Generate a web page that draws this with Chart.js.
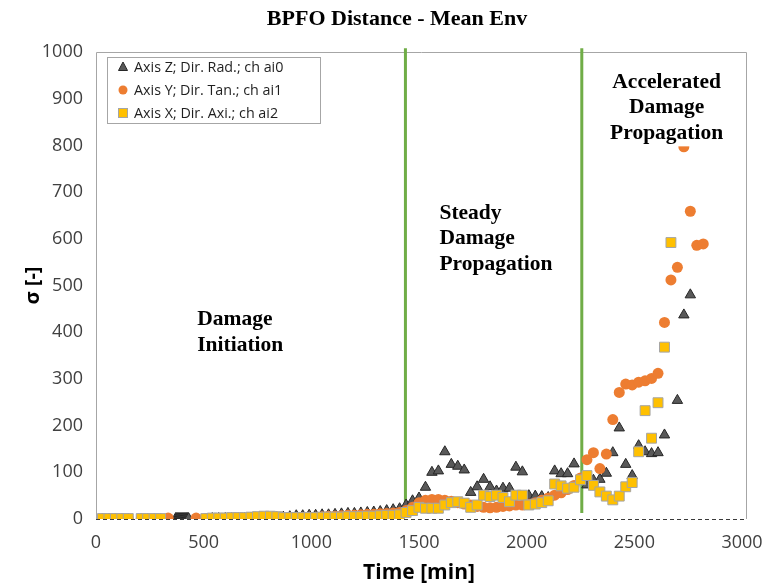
<!DOCTYPE html>
<html>
<head>
<meta charset="utf-8">
<script src="https://cdn.jsdelivr.net/npm/chart.js@4/dist/chart.umd.min.js"></script>
<style>
  html, body { margin: 0; padding: 0; background: #ffffff; }
  #wrap { width: 768px; height: 584px; }
</style>
</head>
<body>
<div id="wrap"><canvas id="c" width="768" height="584"></canvas></div>
<script>
// ---------- DATA ----------
const chartTitle = 'BPFO Distance - Mean Env';
const xTitle = 'Time [min]';
const yTitle = 'σ [-]';
const seriesLabels = ['Axis Z; Dir. Rad.; ch ai0', 'Axis Y; Dir. Tan.; ch ai1', 'Axis X; Dir. Axi.; ch ai2'];
const phaseDividers = [1437, 2256];           // vertical green lines, time [min]
const phaseLabels = [
  { lines: ['Damage', 'Initiation'], t: 470, s: 427, align: 'left' },
  { lines: ['Steady', 'Damage', 'Propagation'], t: 1595, s: 655, align: 'left' },
  { lines: ['Accelerated', 'Damage', 'Propagation'], t: 2650, s: 935, align: 'center' }
];

// Axis Z (triangles)
const timeZ = [30,60,90,120,150,210,240,270,300,
  370,375,380,385,390,395,400,405,410,415,420,425,430,
  510,540,570,600,630,660,690,720,750,780,810,840,870,900,930,960,990,1020,1050,1080,1110,1140,1170,1200,1230,1260,1290,1320,1350,1380,
  1410,1440,1470,1500,1530,1560,1590,1620,1650,1680,1710,1740,1770,1800,1830,1860,1890,1920,1950,1980,2010,2040,2070,2100,2130,2160,2190,2220,2250,2280,2310,2340,2370,2400,2430,2460,2490,2520,2550,2580,2610,2640,
  2700,2730,2760];
const sigmaZ = [0,0,0,0,0,0,0,0,0,
  1,1,1,1,1,1,1,1,1,1,1,1,1,
  0,1,1,1,1,1,1,2,2,2,2,3,4,5,7,7,8,8,9,9,10,11,12,12,13,14,15,16,18,20,
  22,30,39,45,68,100,103,144,117,113,105,57,69,85,69,60,66,66,111,101,50,49,48,46,103,97,97,118,85,73,83,85,98,142,195,117,93,157,144,140,142,180,
  254,437,480];

// Axis Y (circles)
const timeY = [30,60,90,120,150,210,240,270,300,335,465,
  510,540,570,600,630,660,690,720,750,780,810,840,870,900,930,960,990,1020,1050,1080,1110,1140,1170,1200,1230,1260,1290,1320,1350,1380,
  1410,1440,1470,1500,1530,1560,1590,1620,1650,1680,1710,1740,1770,1800,1830,1860,1890,1920,1950,1980,2010,2040,2070,2100,2130,2160,2190,2220,2250,2280,2310,2340,2370,2400,2430,2460,2490,2520,2550,2580,2610,2640,2670,
  2700,2730,2760,2790,2820];
const sigmaY = [0,0,0,0,0,0,0,0,0,2,2,
  1,1,1,1,1,1,1,1,2,2,2,2,2,2,3,3,4,4,5,6,6,7,8,8,9,10,10,11,12,13,
  14,18,25,35,40,42,42,40,38,35,32,30,27,25,24,25,27,28,30,30,32,35,40,45,51,56,63,72,88,127,142,108,139,213,271,289,287,293,296,301,312,421,512,
  539,797,659,586,589];

// Axis X (squares)
const timeX = [30,60,90,120,150,210,240,270,300,
  510,540,570,600,630,660,690,720,750,780,810,840,870,900,930,960,990,1020,1050,1080,1110,1140,1170,1200,1230,1260,1290,1320,1350,1380,
  1410,1440,1470,1500,1530,1560,1590,1620,1650,1680,1710,1740,1770,1800,1830,1860,1890,1920,1950,1980,2010,2040,2070,2100,2130,2160,2190,2220,2250,2280,2310,2340,2370,2400,2430,2460,2490,2520,2550,2580,2610,2640,2670];
const sigmaX = [1,1,1,1,1,1,1,1,1,
  1,2,2,2,3,3,3,4,5,6,6,5,3,3,3,3,3,3,4,4,4,4,5,5,5,6,6,7,8,8,
  9,14,18,25,23,23,23,30,35,37,34,25,30,51,48,51,46,37,51,51,30,32,35,39,75,71,66,68,84,93,72,58,49,41,49,69,78,144,232,173,249,368,592];

// Axis settings
const xMin = 0, xMax = 3000, xStep = 500;
const yMin = 0, yMax = 1000, yStep = 100;

// ---------- helpers ----------
function toPoints(ts, vs) { return ts.map((t, i) => ({ x: t, y: vs[i] })); }

const COLORS = {
  tri: '#595959', triBorder: '#262626',
  circ: '#ED7D31',
  sq: '#FFC000', sqBorder: '#A5A5A5',
  green: '#70AD47', frame: '#A6A6A6', text: '#404040'
};

function drawMarker(ctx, style, x, y) {
  ctx.save();
  if (style === 'triangle') {
    ctx.beginPath();
    ctx.moveTo(x, y - 5);
    ctx.lineTo(x + 4.5, y + 3.5);
    ctx.lineTo(x - 4.5, y + 3.5);
    ctx.closePath();
    ctx.fillStyle = COLORS.tri; ctx.fill();
    ctx.strokeStyle = COLORS.triBorder; ctx.lineWidth = 1; ctx.stroke();
  } else if (style === 'circle') {
    ctx.beginPath(); ctx.arc(x, y, 4.5, 0, Math.PI * 2);
    ctx.fillStyle = COLORS.circ; ctx.fill();
  } else {
    ctx.fillStyle = COLORS.sq; ctx.fillRect(x - 4.5, y - 4.5, 9, 9);
    ctx.strokeStyle = COLORS.sqBorder; ctx.lineWidth = 1; ctx.strokeRect(x - 4.5, y - 4.5, 9, 9);
  }
  ctx.restore();
}

const decor = {
  id: 'decor',
  beforeDatasetsDraw(chart) {
    const { ctx, chartArea: a, scales: { x, y } } = chart;
    ctx.save();
    // plot frame (top, left, right)
    ctx.strokeStyle = COLORS.frame; ctx.lineWidth = 1;
    ctx.beginPath();
    ctx.moveTo(a.left + 0.5, a.bottom); ctx.lineTo(a.left + 0.5, a.top + 0.5);
    ctx.lineTo(a.right + 4.5, a.top + 0.5); ctx.lineTo(a.right + 4.5, a.bottom);
    ctx.stroke();
    // dashed zero line
    ctx.strokeStyle = '#3a3a3a'; ctx.setLineDash([4, 3]);
    ctx.beginPath(); ctx.moveTo(a.left, a.bottom + 0.5); ctx.lineTo(a.right + 5, a.bottom + 0.5); ctx.stroke();
    ctx.setLineDash([]);
    // phase divider lines
    ctx.strokeStyle = COLORS.green; ctx.lineWidth = 3;
    phaseDividers.forEach(t => {
      const px = x.getPixelForValue(t);
      ctx.beginPath();
      ctx.moveTo(px, y.getPixelForValue(1008));
      ctx.lineTo(px, y.getPixelForValue(13));
      ctx.stroke();
    });
    ctx.restore();
  },
  afterDatasetsDraw(chart) {
    const { ctx, scales: { x, y } } = chart;
    ctx.save();
    ctx.font = 'bold 21.5px "Liberation Serif", "Times New Roman", serif';
    ctx.fillStyle = '#000';
    ctx.textBaseline = 'middle';
    phaseLabels.forEach(lbl => {
      const px = x.getPixelForValue(lbl.t);
      const py = y.getPixelForValue(lbl.s);
      if (lbl.align === 'center') {
        ctx.fillStyle = '#ffffff';
        ctx.fillRect(px - 66, py - 20, 132, 84);
        ctx.fillStyle = '#000';
      }
      ctx.textAlign = lbl.align;
      lbl.lines.forEach((ln, i) => ctx.fillText(ln, px, py + i * 25.5));
    });
    ctx.restore();
  },
  afterDraw(chart) {
    const { ctx } = chart;
    ctx.save();
    // legend box
    const bx = 107.5, by = 57.5, bw = 213, bh = 66;
    ctx.fillStyle = '#fff'; ctx.fillRect(bx, by, bw, bh);
    ctx.strokeStyle = '#A6A6A6'; ctx.lineWidth = 1; ctx.strokeRect(bx, by, bw, bh);
    const styles = ['triangle', 'circle', 'rect'];
    const rows = [67, 90, 113];
    ctx.font = '14.3px "Open Sans", sans-serif';
    ctx.textBaseline = 'middle'; ctx.textAlign = 'left';
    chart.data.datasets.forEach((ds, i) => {
      drawMarker(ctx, styles[i], 123, rows[i]);
      ctx.fillStyle = '#1f1f1f';
      ctx.fillText(ds.label, 134, rows[i] + 0.5);
    });
    ctx.restore();
  }
};

const plainTick = v => String(v);

new Chart(document.getElementById('c'), {
  type: 'scatter',
  data: {
    datasets: [
      { label: seriesLabels[0], data: toPoints(timeZ, sigmaZ), pointStyle: 'triangle', pointRadius: 6,
        backgroundColor: COLORS.tri, borderColor: COLORS.triBorder, borderWidth: 1, order: 2 },
      { label: seriesLabels[1], data: toPoints(timeY, sigmaY), pointStyle: 'circle', pointRadius: 5.5,
        backgroundColor: COLORS.circ, borderColor: COLORS.circ, borderWidth: 0, order: 1 },
      { label: seriesLabels[2], data: toPoints(timeX, sigmaX), pointStyle: 'rect', pointRadius: 7,
        backgroundColor: COLORS.sq, borderColor: COLORS.sqBorder, borderWidth: 1, order: 0 }
    ]
  },
  options: {
    responsive: false,
    animation: false,
    devicePixelRatio: 1,
    layout: { padding: { left: 26, right: 0, top: 0, bottom: 0 } },
    plugins: {
      legend: { display: false },
      tooltip: { enabled: false },
      title: {
        display: true, text: chartTitle, color: '#000',
        font: { family: '"Liberation Serif", "Times New Roman", serif', size: 22, weight: 'bold', lineHeight: 1.2 },
        padding: { top: 6, bottom: 19.6 }
      }
    },
    scales: {
      x: {
        type: 'linear', min: xMin, max: xMax,
        ticks: { stepSize: xStep, color: COLORS.text, padding: 13, callback: plainTick,
          font: { family: '"Open Sans", sans-serif', size: 18 } },
        grid: { display: false, drawTicks: false },
        border: { display: false },
        title: { display: true, text: xTitle, color: '#000', padding: { top: 0, bottom: 0 },
          font: { family: '"Open Sans", sans-serif', size: 21, weight: 'bold', lineHeight: 1.05 } },
        afterFit: s => { s.height = 65; s.paddingLeft = 0; s.paddingRight = 0; }
      },
      y: {
        type: 'linear', min: yMin, max: yMax,
        ticks: { stepSize: yStep, color: COLORS.text, padding: 13, callback: plainTick,
          font: { family: '"Open Sans", sans-serif', size: 18 } },
        grid: { display: false, drawTicks: false },
        border: { display: false },
        title: { display: true, text: yTitle, color: '#000', padding: { top: 0, bottom: 0 },
          font: { family: '"Open Sans", sans-serif', size: 20, weight: 'bold', lineHeight: 0.7 } },
        afterFit: s => { s.width = 70; s.paddingTop = 0; s.paddingBottom = 0; }
      },
      yR: {
        type: 'linear', position: 'right', display: true,
        ticks: { display: false }, grid: { display: false, drawTicks: false }, border: { display: false },
        afterFit: s => { s.width = 26; s.paddingTop = 0; s.paddingBottom = 0; }
      }
    }
  },
  plugins: [decor]
});
</script>
</body>
</html>
